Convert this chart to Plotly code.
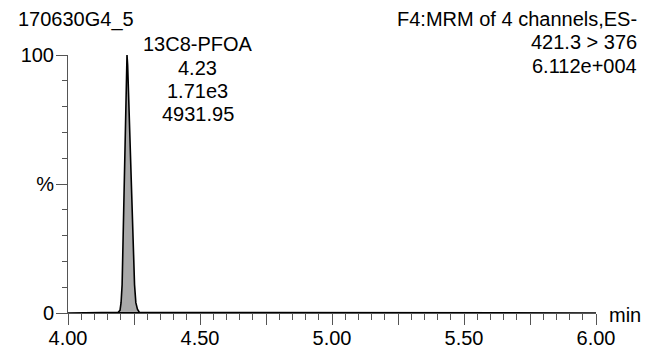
import plotly.graph_objects as go

# ---- data ----
times = [4.000, 4.110, 4.190, 4.197, 4.201, 4.205, 4.209, 4.213, 4.217, 4.221,
         4.2235, 4.226, 4.230, 4.234, 4.238, 4.242, 4.247, 4.252, 4.257, 4.263,
         4.270, 4.320, 6.000]
intensity = [0, 0.2, 0.3, 1, 4, 11, 28, 48, 68, 88,
             100, 96, 82, 68, 54, 40, 25, 11, 4, 1.5,
             0.3, 0.2, 0]
integ_start, integ_end = 4.11, 4.32
peak_rt = 4.2235
peak_labels = ["13C8-PFOA", "4.23", "1.71e3", "4931.95"]
sample_name = "170630G4_5"
header_right = ["F4:MRM of 4 channels,ES-", "421.3 > 376", "6.112e+004"]
x_tickvals = [4.00, 4.25, 4.50, 4.75, 5.00, 5.25, 5.50, 5.75, 6.00]
x_ticktext = ["4.00", "", "4.50", "", "5.00", "", "5.50", "", "6.00"]
y_tickvals = [0, 50, 100]
y_ticktext = ["0", "%", "100"]

# ---- layout geometry ----
W, H = 646, 346
L, R, T, B = 68, 50, 55, 33
PW, PH = W - L - R, H - T - B


def px_x(px):
    return (px - L) / PW


def px_y(py):
    return (H - B - py) / PH


FONT = "Liberation Sans, Arial, sans-serif"
AX = "#555555"

fig = go.Figure()
fig.add_trace(go.Scatter(
    x=times, y=intensity, mode="lines",
    line=dict(color="black", width=1.6),
    fill="tozeroy", fillcolor="#a9a9a9",
    hoverinfo="skip", showlegend=False,
))
fig.add_trace(go.Scatter(
    x=[integ_start, integ_end], y=[0, 0], mode="lines",
    line=dict(color="black", width=2),
    hoverinfo="skip", showlegend=False, cliponaxis=False,
))

# connector from apex to label
fig.add_shape(type="line", xref="x", yref="y",
              x0=peak_rt, x1=peak_rt + 0.053, y0=100.4, y1=100.4,
              line=dict(color="black", width=1.2))

label_ys = [44, 68, 91, 114]
for txt, yy in zip(peak_labels, label_ys):
    fig.add_annotation(text=txt, xref="paper", yref="paper",
                       x=px_x(197.5), y=px_y(yy), xanchor="center", yanchor="middle",
                       showarrow=False, font=dict(family=FONT, size=20, color="black"))

fig.add_annotation(text=sample_name, xref="paper", yref="paper",
                   x=px_x(16), y=px_y(19.5), xanchor="left", yanchor="middle",
                   showarrow=False, font=dict(family=FONT, size=20, color="black"))
for txt, yy in zip(header_right, [19, 42, 66]):
    fig.add_annotation(text=txt, xref="paper", yref="paper",
                       x=px_x(639), y=px_y(yy), xanchor="right", yanchor="middle",
                       showarrow=False, font=dict(family=FONT, size=20, color="black"))
fig.add_annotation(text="min", xref="paper", yref="paper",
                   x=px_x(607), y=px_y(315), xanchor="left", yanchor="middle",
                   showarrow=False, font=dict(family=FONT, size=20, color="black"))

fig.update_layout(
    width=W, height=H,
    margin=dict(l=L, r=R, t=T, b=B, pad=0, autoexpand=False),
    paper_bgcolor="white", plot_bgcolor="white",
    font=dict(family=FONT, size=20, color="black"),
    showlegend=False,
)
fig.update_xaxes(
    range=[4, 6], showgrid=False, zeroline=False, automargin=False,
    showline=True, linecolor=AX, linewidth=1,
    tickmode="array", tickvals=x_tickvals, ticktext=x_ticktext,
    ticks="outside", ticklen=11, tickwidth=1, tickcolor=AX,
    ticklabelstandoff=-4,
    tickfont=dict(family=FONT, size=20, color="black"),
    minor=dict(dtick=0.05, ticks="outside", ticklen=6, tickwidth=1, tickcolor=AX),
)
fig.update_yaxes(
    range=[0, 100], showgrid=False, zeroline=False, automargin=False,
    showline=True, linecolor=AX, linewidth=1,
    tickmode="array", tickvals=y_tickvals, ticktext=y_ticktext,
    ticks="outside", ticklen=11, tickwidth=1, tickcolor=AX,
    ticklabelstandoff=-2,
    tickfont=dict(family=FONT, size=20, color="black"),
    minor=dict(dtick=10, ticks="outside", ticklen=5, tickwidth=1, tickcolor=AX),
)

fig.write_html("out.html", config={"displayModeBar": False},
               post_script="document.body.style.margin='0';")
